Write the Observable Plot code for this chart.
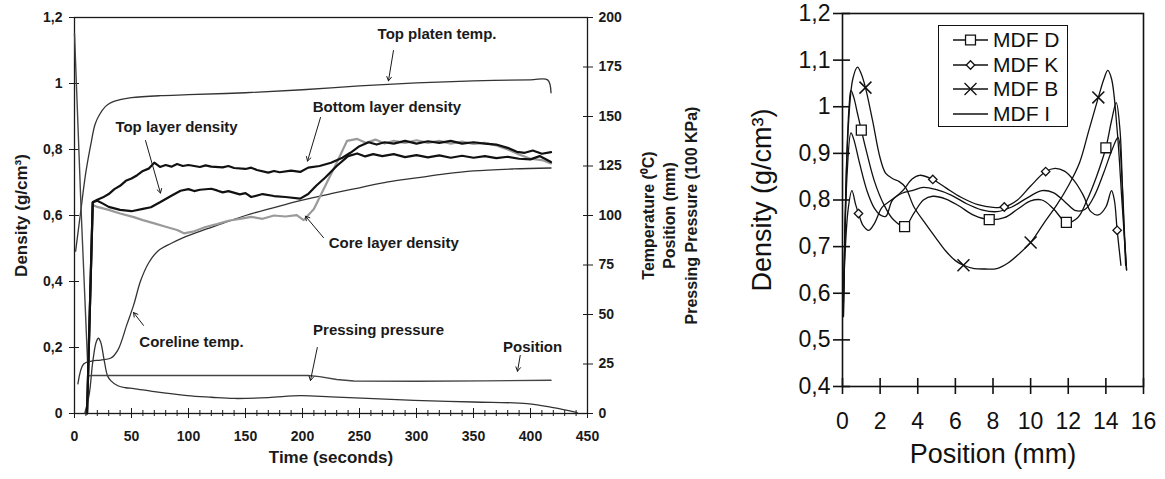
<!DOCTYPE html>
<html><head><meta charset="utf-8">
<script src="https://cdn.jsdelivr.net/npm/d3@7"></script>
<script src="https://cdn.jsdelivr.net/npm/@observablehq/plot@0.6"></script>
<style>
body{margin:0;background:#fff;}
#wrap{position:relative;width:1165px;height:479px;display:flex;overflow:hidden;}
#left,#right{position:relative;}
#legend{position:absolute;left:218px;top:25px;width:128px;height:100px;border:1.5px solid #111;background:#fff;font-family:"Liberation Sans",Arial,sans-serif;font-size:21px;color:#111;}
#legend .row{position:absolute;left:0;height:24px;}
#legend svg{position:absolute;left:12px;top:0;}
#legend span{position:absolute;left:54px;top:0;line-height:24px;white-space:nowrap;}
</style></head><body>
<div id="wrap"><div id="left"></div><div id="right"><div id="legend"></div></div></div>
<script>
// ---------- Left chart data (time in seconds) ----------
const timeTicks = [0, 50, 100, 150, 200, 250, 300, 350, 400, 450];
const timeMinorTicks = d3.range(0, 451, 10);
const densityTicks = [0, 0.2, 0.4, 0.6, 0.8, 1, 1.2];
const rightTicks = [0, 25, 50, 75, 100, 125, 150, 175, 200];

// densities (g/cm3)
const bottomLayerDensity = [[11,0],[16,0.64],[20,0.648],[25,0.655],[30,0.665],[35,0.68],[40,0.69],[45,0.705],[50,0.712],[55,0.722],[60,0.735],[65,0.742],[70,0.76],[75,0.747],[80,0.753],[85,0.748],[90,0.756],[95,0.75],[100,0.753],[110,0.747],[115,0.752],[120,0.748],[130,0.746],[135,0.75],[140,0.744],[150,0.741],[155,0.745],[160,0.738],[170,0.73],[175,0.735],[180,0.731],[190,0.736],[198,0.732],[205,0.745],[215,0.75],[225,0.76],[235,0.775],[242,0.79],[250,0.81],[258,0.822],[265,0.815],[272,0.822],[280,0.818],[290,0.826],[300,0.818],[310,0.825],[320,0.82],[330,0.826],[340,0.818],[350,0.822],[360,0.818],[370,0.815],[380,0.805],[388,0.793],[395,0.79],[402,0.797],[410,0.787],[418,0.792]];
const topLayerDensity = [[11,0],[16,0.64],[20,0.645],[25,0.636],[30,0.626],[40,0.617],[50,0.613],[60,0.62],[67,0.625],[75,0.64],[85,0.66],[93,0.675],[100,0.68],[105,0.674],[110,0.678],[120,0.681],[125,0.676],[130,0.67],[135,0.674],[145,0.664],[150,0.668],[155,0.656],[165,0.665],[175,0.659],[185,0.656],[198,0.651],[205,0.665],[212,0.69],[220,0.715],[230,0.75],[240,0.78],[248,0.788],[255,0.779],[262,0.786],[270,0.78],[280,0.786],[290,0.777],[300,0.783],[310,0.776],[320,0.782],[330,0.775],[340,0.781],[350,0.775],[360,0.78],[370,0.774],[380,0.778],[390,0.772],[400,0.77],[408,0.78],[418,0.762]];
const coreLayerDensity = [[11,0],[16,0.632],[20,0.626],[30,0.617],[40,0.606],[52,0.595],[60,0.586],[70,0.576],[80,0.566],[90,0.556],[96,0.546],[105,0.552],[115,0.565],[125,0.574],[135,0.584],[145,0.59],[155,0.596],[165,0.59],[175,0.6],[185,0.597],[195,0.601],[201,0.586],[210,0.62],[220,0.69],[230,0.76],[239,0.826],[248,0.832],[256,0.82],[264,0.83],[272,0.818],[280,0.826],[290,0.82],[300,0.828],[310,0.82],[320,0.826],[330,0.818],[340,0.824],[350,0.817],[360,0.82],[370,0.812],[380,0.8],[390,0.785],[400,0.772],[410,0.768],[418,0.758]];

// right-axis series: temperature (°C), position (mm), pressure (100 kPa)
const topPlatenTemp = [[1,82],[5,100],[10,122],[15,138],[18,146],[22,151],[27,155],[32,157],[40,158.5],[50,159.5],[75,160.5],[100,161],[150,162],[200,163.5],[250,165.5],[300,167],[350,168],[400,168.5],[415,168.5],[418,162]];
const corelineTemp = [[3,15],[8,25],[15,26.5],[23,27],[32,28],[38,32],[46,45],[52,55],[58,67],[65,76],[73,82],[85,86],[96,89],[110,92],[130,96],[150,100],[175,104],[198,107.5],[225,111],[250,114],[275,117],[300,119],[325,121],[350,122.5],[385,123.5],[418,124]];
const pressingPressure = [[9,0],[13,10],[16,26],[19,36],[21,38],[23,36],[26,27],[29,19],[32,16.5],[38,14],[45,13],[52,12.6],[70,11],[99,9],[120,8.2],[140,7.6],[170,8],[198,9],[225,8.4],[257,7.6],[298,6.6],[350,5.8],[397,5],[420,3],[441,0.5]];
const position = [[0,192],[6,100],[12,19],[15,19.2],[100,19.2],[205,19.2],[215,18.6],[230,17.2],[245,16.4],[300,16.3],[360,16.5],[418,16.8]];

// annotations (time, density)
const annotations = [
  {t: 318, d: 1.148, label: "Top platen temp."},
  {t: 274, d: 0.927, label: "Bottom layer density"},
  {t: 89.5, d: 0.867, label: "Top layer density"},
  {t: 280, d: 0.515, label: "Core layer density"},
  {t: 102.6, d: 0.215, label: "Coreline temp."},
  {t: 266.7, d: 0.252, label: "Pressing pressure"},
  {t: 401.8, d: 0.2, label: "Position"}
];
const arrows = [
  {t1: 279.8, d1: 1.10, t2: 275.4, d2: 1.008},
  {t1: 215.8, d1: 0.897, t2: 204.4, d2: 0.765},
  {t1: 62.3, d1: 0.827, t2: 75.4, d2: 0.668},
  {t1: 218.4, d1: 0.533, t2: 202.6, d2: 0.598},
  {t1: 60.5, d1: 0.267, t2: 51.8, d2: 0.306},
  {t1: 213, d1: 0.2, t2: 207, d2: 0.1},
  {t1: 391, d1: 0.176, t2: 388.6, d2: 0.128}
];

// ---------- Right chart data (position in mm) ----------
const positionTicks = [0, 2, 4, 6, 8, 10, 12, 14, 16];
const profileDensityTicks = [0.4, 0.5, 0.6, 0.7, 0.8, 0.9, 1, 1.1, 1.2];
const seriesNames = ["MDF D", "MDF K", "MDF B", "MDF I"];
const seriesSymbols = ["square", "diamond2", "times", null];

const mdfD = [[0.05,0.58],[0.2,0.86],[0.35,1.0],[0.45,1.035],[0.6,1.02],[0.8,0.985],[1.0,0.95],[1.3,0.9],[1.7,0.84],[2.2,0.79],[2.7,0.758],[3.3,0.743],[3.8,0.772],[4.3,0.8],[4.8,0.808],[5.5,0.802],[6.2,0.787],[7.0,0.767],[7.8,0.758],[8.6,0.762],[9.3,0.78],[10.0,0.798],[10.6,0.8],[11.2,0.782],[11.9,0.752],[12.5,0.762],[13.0,0.8],[13.5,0.85],[14.0,0.912],[14.3,0.97],[14.55,1.009],[14.75,0.95],[14.9,0.8],[15.05,0.66]];
const mdfK = [[0.05,0.6],[0.3,0.78],[0.5,0.82],[0.7,0.79],[0.85,0.771],[1.1,0.745],[1.4,0.735],[1.7,0.75],[2.1,0.784],[2.6,0.8],[3.2,0.82],[3.7,0.845],[4.1,0.853],[4.8,0.844],[5.5,0.826],[6.3,0.806],[7.2,0.79],[8.0,0.784],[8.6,0.785],[9.3,0.8],[10.0,0.83],[10.8,0.861],[11.3,0.868],[11.8,0.862],[12.3,0.842],[12.8,0.81],[13.2,0.775],[13.6,0.768],[14.0,0.785],[14.3,0.82],[14.45,0.8],[14.6,0.735],[14.8,0.66]];
const mdfB = [[0.05,0.55],[0.3,0.95],[0.55,1.06],[0.8,1.085],[1.0,1.07],[1.22,1.041],[1.6,0.97],[2.0,0.89],[2.3,0.857],[2.7,0.845],[3.0,0.84],[3.35,0.827],[3.8,0.785],[4.4,0.75],[4.94,0.72],[5.5,0.69],[6.0,0.67],[6.43,0.66],[7.0,0.653],[7.6,0.652],[8.2,0.653],[8.8,0.665],[9.4,0.685],[10.0,0.709],[10.7,0.75],[11.4,0.79],[12.0,0.83],[12.6,0.88],[13.1,0.95],[13.6,1.02],[13.9,1.06],[14.1,1.078],[14.3,1.06],[14.6,0.95],[14.85,0.8],[15.1,0.65]];
const mdfI = [[0.05,0.55],[0.25,0.86],[0.45,0.944],[0.6,0.93],[0.9,0.88],[1.3,0.82],[1.7,0.782],[2.0,0.768],[2.3,0.765],[2.66,0.8],[3.2,0.815],[3.7,0.82],[4.3,0.827],[5.0,0.822],[5.8,0.81],[6.6,0.792],[7.4,0.779],[8.2,0.775],[9.0,0.785],[9.8,0.804],[10.6,0.82],[11.2,0.816],[11.8,0.797],[12.4,0.777],[12.9,0.78],[13.4,0.81],[13.9,0.86],[14.35,0.91],[14.65,0.934],[14.85,0.85],[15.0,0.72],[15.1,0.65]];
const mdfDMarkers = [[1.0,0.95],[3.3,0.743],[7.8,0.758],[11.9,0.752],[14.0,0.912]];
const mdfKMarkers = [[0.85,0.771],[4.8,0.844],[8.6,0.785],[10.8,0.861],[14.6,0.735]];
const mdfBMarkers = [[1.22,1.041],[6.43,0.66],[10.0,0.709],[13.6,1.02]];

// ---------- build ----------
const K = 1.2 / 200; // right-axis units -> density units
const fmt = d => String(Math.round(d * 10) / 10).replace(".", ",");
const ink = "#1a1a1a";
const L = (data, o = {}) => Plot.line(data, {x: d => d[0], y: d => d[1], ...o});
const LR = (data, o = {}) => Plot.line(data, {x: d => d[0], y: d => d[1] * K, ...o});

const left = Plot.plot({
  width: 720, height: 479,
  marginLeft: 74, marginRight: 133, marginTop: 17, marginBottom: 66,
  style: {fontFamily: "'Liberation Sans', Arial, sans-serif", fontSize: "14px", fontWeight: "bold", color: ink, background: "white"},
  x: {domain: [0, 450]},
  y: {domain: [0, 1.2]},
  marks: [
    Plot.frame({stroke: ink, strokeWidth: 1.3}),
    Plot.axisY({ticks: densityTicks, tickSize: 0, tickPadding: 12, tickFormat: fmt, label: null}),
    Plot.axisY({ticks: densityTicks, tickSize: 10, dx: 5, tickFormat: () => "", label: null}),
    Plot.axisX({ticks: timeTicks, tickSize: 0, tickPadding: 18, label: null}),
    Plot.axisX({ticks: timeTicks, tickSize: 10, dy: -5, tickFormat: () => "", label: null}),
    Plot.axisX({ticks: timeMinorTicks, tickSize: 6, dy: -3, tickFormat: () => "", label: null}),
    Plot.axisY({anchor: "right", ticks: rightTicks.map(v => v * K), tickSize: 0, tickPadding: 11, tickFormat: d => Math.round(d / K), label: null}),
    Plot.axisY({anchor: "right", ticks: rightTicks.map(v => v * K), tickSize: 10, dx: -5, tickFormat: () => "", label: null}),
    LR(topPlatenTemp, {stroke: "#333", strokeWidth: 1.3, curve: "catmull-rom"}),
    LR(corelineTemp, {stroke: "#333", strokeWidth: 1.3, curve: "catmull-rom"}),
    LR(pressingPressure, {stroke: "#333", strokeWidth: 1.3, curve: "catmull-rom"}),
    LR(position, {stroke: "#444", strokeWidth: 1.4}),
    L(coreLayerDensity, {stroke: "#9a9a9a", strokeWidth: 2.2}),
    L(topLayerDensity, {stroke: "#111", strokeWidth: 2.2}),
    L(bottomLayerDensity, {stroke: "#111", strokeWidth: 2.2}),
    Plot.text(annotations, {x: "t", y: "d", text: "label", fontSize: 15, fontWeight: "bold", fill: ink}),
    Plot.arrow(arrows, {x1: "t1", y1: "d1", x2: "t2", y2: "d2", stroke: ink, strokeWidth: 1, headLength: 7}),
    Plot.text(["Time (seconds)"], {frameAnchor: "bottom", textAnchor: "middle", dy: 49, fontSize: 17, fontWeight: "bold", fill: ink}),
    Plot.text(["Density (g/cm³)"], {frameAnchor: "left", textAnchor: "middle", dx: -53, rotate: -90, fontSize: 17, fontWeight: "bold", fill: ink}),
    Plot.text(["Temperature (⁰C)"], {frameAnchor: "right", textAnchor: "middle", dx: 61, rotate: -90, fontSize: 16, fontWeight: "bold", fill: ink}),
    Plot.text(["Position (mm)"], {frameAnchor: "right", textAnchor: "middle", dx: 82, rotate: -90, fontSize: 16, fontWeight: "bold", fill: ink}),
    Plot.text(["Pressing Pressure (100 KPa)"], {frameAnchor: "right", textAnchor: "middle", dx: 104, rotate: -90, fontSize: 16, fontWeight: "bold", fill: ink})
  ]
});
document.getElementById("left").appendChild(left);

const right = Plot.plot({
  width: 445, height: 479,
  marginLeft: 122, marginRight: 22, marginTop: 13, marginBottom: 93,
  style: {fontFamily: "'Liberation Sans', Arial, sans-serif", fontSize: "23px", color: "#111", background: "white"},
  x: {domain: [0, 16]},
  y: {domain: [0.4, 1.2]},
  marks: [
    Plot.frame({stroke: "#111", strokeWidth: 1.6}),
    Plot.axisY({ticks: profileDensityTicks, tickSize: 0, tickPadding: 12, tickFormat: fmt, label: null}),
    Plot.axisY({ticks: profileDensityTicks, tickSize: 17, dx: 8, tickFormat: () => "", label: null, strokeWidth: 1.6}),
    Plot.axisX({ticks: positionTicks, tickSize: 0, tickPadding: 26, label: null}),
    Plot.axisX({ticks: positionTicks, tickSize: 16, dy: -8, tickFormat: () => "", label: null, strokeWidth: 1.6}),
    L(mdfD, {stroke: "#111", strokeWidth: 1.3, curve: "catmull-rom"}),
    L(mdfK, {stroke: "#111", strokeWidth: 1.3, curve: "catmull-rom"}),
    L(mdfB, {stroke: "#111", strokeWidth: 1.3, curve: "catmull-rom"}),
    L(mdfI, {stroke: "#111", strokeWidth: 1.3, curve: "catmull-rom"}),
    Plot.dot(mdfDMarkers, {x: d => d[0], y: d => d[1], symbol: "square", r: 5.6, stroke: "#111", fill: "white", strokeWidth: 1.3}),
    Plot.dot(mdfKMarkers, {x: d => d[0], y: d => d[1], symbol: "diamond2", r: 3.8, stroke: "#111", fill: "white", strokeWidth: 1.3}),
    Plot.dot(mdfBMarkers, {x: d => d[0], y: d => d[1], symbol: "times", r: 5.5, stroke: "#111", strokeWidth: 1.5}),
    Plot.text(["Position (mm)"], {frameAnchor: "bottom", textAnchor: "middle", dy: 76, fontSize: 27, fill: "#111"}),
    Plot.text(["Density (g/cm³)"], {frameAnchor: "left", textAnchor: "middle", dx: -80, rotate: -90, fontSize: 27, fill: "#111"})
  ]
});
document.getElementById("right").insertBefore(right, document.getElementById("legend"));

// legend
const legend = d3.select("#legend");
const symMap = {square: d3.symbolSquare, diamond2: d3.symbolDiamond2, times: d3.symbolTimes};
const symR = {square: 5.6, diamond2: 3.8, times: 5.5};
seriesNames.forEach((name, i) => {
  const row = legend.append("div").attr("class", "row").style("top", (2 + i * 24.5) + "px").style("width", "128px");
  const svg = row.append("svg").attr("width", 40).attr("height", 24);
  svg.append("line").attr("x1", 2).attr("x2", 37).attr("y1", 12).attr("y2", 12).attr("stroke", "#111").attr("stroke-width", 1.5);
  const s = seriesSymbols[i];
  if (s) {
    const r = symR[s];
    svg.append("path").attr("transform", "translate(19.5,12)")
      .attr("d", d3.symbol(symMap[s], r * r * Math.PI)())
      .attr("fill", s === "times" ? "none" : "white").attr("stroke", "#111").attr("stroke-width", 1.3);
  }
  row.append("span").text(name);
});
</script>
</body></html>
